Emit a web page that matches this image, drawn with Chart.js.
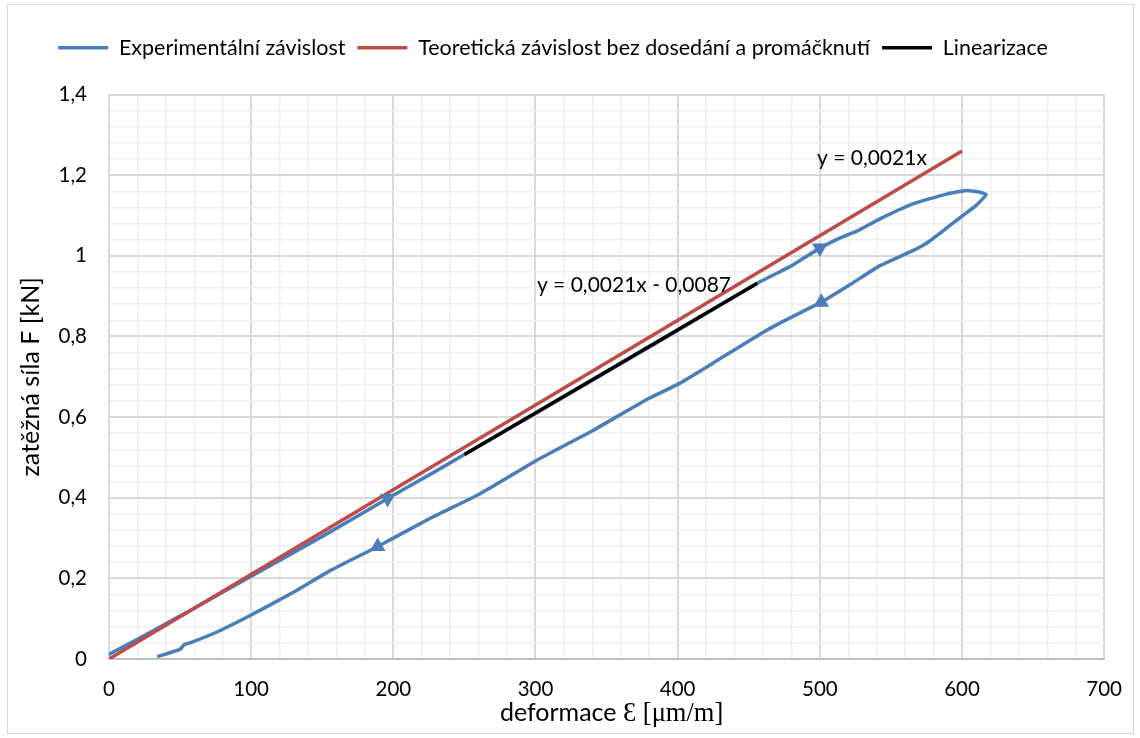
<!DOCTYPE html>
<html>
<head>
<meta charset="utf-8">
<script src="https://cdn.jsdelivr.net/npm/chart.js@4.4.1/dist/chart.umd.min.js"></script>
<style>
  html, body { margin: 0; padding: 0; background: #fff; }
  #wrap { width: 1140px; height: 738px; position: relative; }
</style>
</head>
<body>
<div id="wrap"><canvas id="c" width="1140" height="738"></canvas></div>
<script>
// ---- data ----
const seriesNames = ['Experimentální závislost', 'Teoretická závislost bez dosedání a promáčknutí', 'Linearizace'];

// Experimental hysteresis loop (loading branch then unloading branch)
const expX = [0, 10, 30, 60, 100, 155, 196, 225, 250, 300, 350, 400, 456, 480, 500, 514, 526, 542, 565, 589, 603, 612, 617,
              610, 598, 586, 577, 573, 565, 542, 522, 501, 479, 462, 430, 401, 378, 340, 301, 261, 226, 189, 155, 130, 100, 76, 57, 53, 50, 45, 35];
const expY = [0.012, 0.030, 0.068, 0.126, 0.205, 0.314, 0.398, 0.456, 0.507, 0.609, 0.712, 0.815, 0.932, 0.975, 1.019, 1.044, 1.061, 1.091, 1.128, 1.153, 1.162, 1.158, 1.152,
              1.125, 1.093, 1.060, 1.036, 1.027, 1.012, 0.975, 0.930, 0.885, 0.846, 0.814, 0.745, 0.683, 0.643, 0.566, 0.493, 0.410, 0.349, 0.279, 0.218, 0.166, 0.109, 0.067, 0.040, 0.036, 0.024, 0.018, 0.007];

// Theoretical line y = 0.0021x
const theoryX = [0, 600];
const theoryY = [0, 1.26];

// Linearization segment y = 0.0021x - 0.0087
const linX = [250, 456];
const linY = [0.507, 0.932];

// Direction arrows on the experimental curve
const arrowDownX = [196, 500];
const arrowDownY = [0.398, 1.019];
const arrowUpX = [189, 501];
const arrowUpY = [0.279, 0.885];

// Axis ticks
const xMin = 0, xMax = 700, xMajor = 100, xMinor = 20;
const yMin = 0, yMax = 1.4, yMajor = 0.2, yMinor = 0.04;

// Texts
const yTitle = 'zatěžná síla F [kN]';
const xTitleA = 'deformace ';
const xTitleB = 'Ɛ [μm/m]';
const eqTheory = { text: 'y = 0,0021x', x: 498, y: 1.243 };
const eqLin = { text: 'y = 0,0021x - 0,0087', x: 301, y: 0.928 };

// ---- helpers ----
const pts = (xs, ys) => xs.map((x, i) => ({ x, y: ys[i] }));
const isMult = (v, step) => Math.abs(v / step - Math.round(v / step)) < 1e-6;
const fmt = v => String(Math.round(v * 10) / 10).replace('.', ',');

const FONT = 'Lato, "Noto Sans", sans-serif';
const BLUE = '#4a7ebb', RED = '#be4b48', BLACK = '#000000';
const TICK_SIZE = 20.5;

const frame = {
  id: 'frame',
  beforeDraw(chart) {
    const c = chart.ctx;
    c.save();
    c.fillStyle = '#fff';
    c.fillRect(0, 0, chart.width, chart.height);
    c.strokeStyle = '#d9d9d9';
    c.lineWidth = 1;
    c.strokeRect(7.5, 4.5, 1126, 729);
    c.restore();
  },
  afterDraw(chart) {
    const c = chart.ctx, xs = chart.scales.x, ys = chart.scales.y, a = chart.chartArea;
    c.save();
    c.fillStyle = '#000';
    // equations
    c.font = '21px ' + FONT;
    c.textBaseline = 'middle';
    c.textAlign = 'left';
    c.fillText(eqTheory.text, xs.getPixelForValue(eqTheory.x), ys.getPixelForValue(eqTheory.y));
    c.fillText(eqLin.text, xs.getPixelForValue(eqLin.x), ys.getPixelForValue(eqLin.y));
    // y title
    c.save();
    c.translate(31, (a.top + a.bottom) / 2);
    c.rotate(-Math.PI / 2);
    c.textAlign = 'center';
    c.font = '25px ' + FONT;
    c.fillText(yTitle, 0, 0);
    c.restore();
    // x title (mixed fonts)
    c.textBaseline = 'alphabetic';
    const fA = '25px ' + FONT, fB = '26.5px "Liberation Serif", serif';
    c.font = fA;
    const wA = c.measureText(xTitleA).width;
    c.font = fB;
    const wB = c.measureText(xTitleB).width;
    const cx = (a.left + a.right) / 2 + 5;
    const x0 = cx - (wA + wB) / 2;
    const yb = 721;
    c.textAlign = 'left';
    c.font = fA;
    c.fillText(xTitleA, x0, yb);
    c.font = fB;
    c.fillText(xTitleB, x0 + wA, yb);
    c.restore();
  }
};

new Chart(document.getElementById('c'), {
  type: 'scatter',
  data: {
    datasets: [
      { label: seriesNames[0], data: pts(expX, expY), showLine: true, borderColor: BLUE, backgroundColor: BLUE,
        borderWidth: 3.5, pointRadius: 0, tension: 0.15, order: 3, borderCapStyle: 'round', borderJoinStyle: 'round' },
      { label: seriesNames[1], data: pts(theoryX, theoryY), showLine: true, borderColor: RED, backgroundColor: RED,
        borderWidth: 3.5, pointRadius: 0, order: 2 },
      { label: seriesNames[2], data: pts(linX, linY), showLine: true, borderColor: BLACK, backgroundColor: BLACK,
        borderWidth: 3.5, pointRadius: 0, order: 1 },
      { label: '', data: pts(arrowDownX, arrowDownY), showLine: false, pointStyle: 'triangle', rotation: 180,
        pointRadius: 9, backgroundColor: BLUE, borderColor: BLUE, borderWidth: 0, order: 0 },
      { label: '', data: pts(arrowUpX, arrowUpY), showLine: false, pointStyle: 'triangle', rotation: 0,
        pointRadius: 9, backgroundColor: BLUE, borderColor: BLUE, borderWidth: 0, order: 0 }
    ]
  },
  options: {
    responsive: false,
    animation: false,
    layout: { padding: { top: 25, right: 34, bottom: 0, left: 0 } },
    plugins: {
      tooltip: { enabled: false },
      legend: {
        position: 'top',
        labels: {
          filter: item => item.text !== '',
          sort: (a, b) => a.datasetIndex - b.datasetIndex,
          usePointStyle: true,
          pointStyle: 'line',
          pointStyleWidth: 50,
          boxHeight: 20,
          padding: 12,
          color: '#000',
          font: { family: FONT, size: 21.5 },
          generateLabels(chart) {
            return chart.data.datasets.map((d, i) => ({
              text: d.label, datasetIndex: i, pointStyle: 'line', lineWidth: 3.5,
              strokeStyle: d.borderColor, fillStyle: d.borderColor, fontColor: '#000', hidden: false
            }));
          }
        }
      }
    },
    scales: {
      top: {
        type: 'linear', position: 'top', min: xMin, max: xMax, display: true,
        ticks: { display: false },
        grid: { display: false, drawTicks: false },
        border: { display: false },
        afterFit: s => { s.height = 26; }
      },
      x: {
        type: 'linear', min: xMin, max: xMax,
        afterFit: s => { s.height = 79; },
        ticks: {
          stepSize: xMinor, autoSkip: false, maxRotation: 0, padding: 18,
          color: '#000', font: { family: FONT, size: TICK_SIZE },
          callback: v => isMult(v, xMajor) ? fmt(v) : ''
        },
        grid: {
          drawTicks: false,
          color: ctx => isMult(ctx.tick.value, xMajor) ? '#d9d9d9' : '#efefef',
          lineWidth: ctx => isMult(ctx.tick.value, xMajor) ? 2 : 1.5
        },
        border: { color: '#bfbfbf', width: 2 }
      },
      y: {
        type: 'linear', min: yMin, max: yMax,
        afterFit: s => { s.width = 109; },
        ticks: {
          stepSize: yMinor, autoSkip: false, padding: 22,
          color: '#000', font: { family: FONT, size: TICK_SIZE },
          callback: v => isMult(v, yMajor) ? fmt(v) : ''
        },
        grid: {
          drawTicks: false,
          color: ctx => isMult(ctx.tick.value, yMajor) ? '#d9d9d9' : '#efefef',
          lineWidth: ctx => isMult(ctx.tick.value, yMajor) ? 2 : 1.5
        },
        border: { color: '#d9d9d9', width: 2 }
      }
    }
  },
  plugins: [frame]
});
</script>
</body>
</html>
